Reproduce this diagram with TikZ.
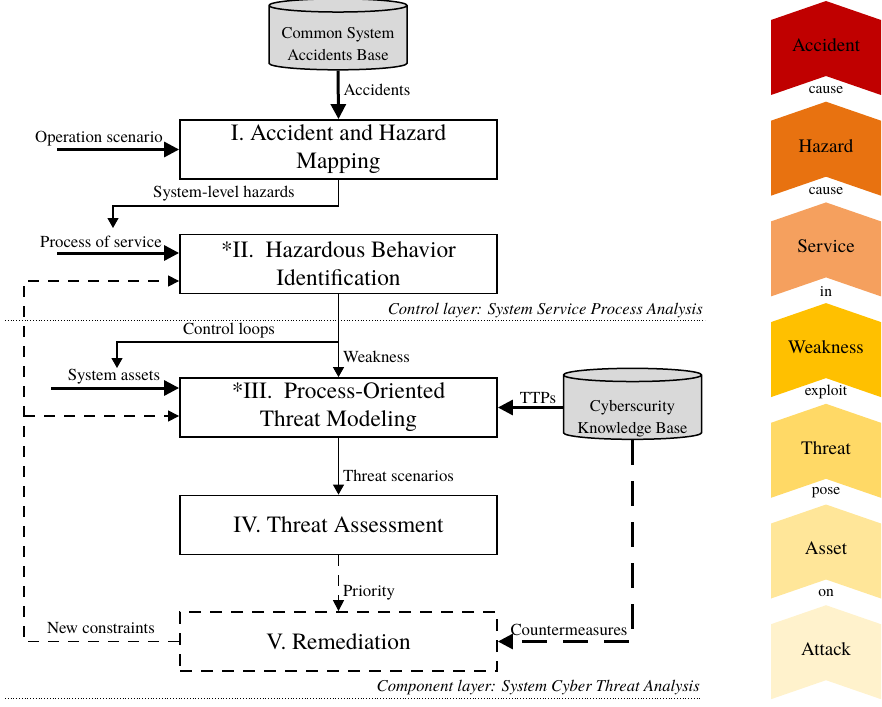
\documentclass[tikz,border=0pt]{standalone}
\usepackage{fontspec}
\setmainfont{texgyretermes}[Extension=.otf, UprightFont=*-regular, ItalicFont=*-italic, BoldFont=*-bold, BoldItalicFont=*-bolditalic]
\usetikzlibrary{positioning,shapes.geometric,arrows.meta}

\definecolor{accred}{HTML}{C00000}
\definecolor{hzorange}{HTML}{E87210}
\definecolor{svorange}{HTML}{F5A05E}
\definecolor{wkgold}{HTML}{FFC000}
\definecolor{thgold}{HTML}{FFD966}
\definecolor{asgold}{HTML}{FFE699}
\definecolor{atgold}{HTML}{FFF2CC}

\tikzset{
  stage/.style={draw, line width=1.8pt, minimum width=317pt, minimum height=59pt, inner sep=0pt, align=center, font=\fontsize{23.3}{28}\selectfont},
  kbase/.style={cylinder, shape border rotate=90, aspect=0.11, draw, line width=1.5pt, fill=gray!30, minimum width=138pt, minimum height=71pt, inner sep=0pt},
  kbtext/.style={inner sep=0pt, align=center, font=\fontsize{16.4}{22}\selectfont},
  lbl/.style={inner sep=0pt, font=\fontsize{16.8}{19}\selectfont},
  layerlbl/.style={inner sep=0pt, anchor=east, font=\fontsize{16.6}{19}\selectfont\itshape},
  flow/.style={line width=1.1pt, -{Triangle[length=10pt,width=11pt]}},
  bigflow/.style={line width=3pt, -{Triangle[length=15pt,width=15pt]}},
  dflow/.style={line width=1.1pt, dash pattern=on 11pt off 9pt, -{Triangle[length=11pt,width=11pt]}},
  bigdflow/.style={line width=3pt, dash pattern=on 25pt off 16pt, -{Triangle[length=15pt,width=15pt]}},
  chevname/.style={inner sep=0pt, font=\fontsize{19}{20}\selectfont},
  chevrel/.style={inner sep=0pt, font=\fontsize{15.5}{18}\selectfont}
}

\begin{document}
\begin{tikzpicture}[x=1pt, y=-1pt]
\useasboundingbox (0,0) rectangle (882,706);

% knowledge bases and stages
\node[kbase] (accbase) at (338,38) {\hspace*{120pt}};
\node[kbtext] (accbasetxt) at ([yshift=-6pt]accbase.center) {Common System\\Accidents Base};
\node[stage] (map) at (338.5,149.5) {I. Accident and Hazard\\Mapping};
\node[stage] (behav) at (338.5,264) {*II.\ \ Hazardous Behavior\\Identification};
\node[stage] (model) at (338.5,407.5) {*III.\ \ Process-Oriented\\Threat Modeling};
\node[stage] (assess) at (338.5,525) {IV. Threat Assessment};
\node[stage, dash pattern=on 12pt off 9pt] (remed) at (338.5,641.5) {V. Remediation};
\node[kbase] (cyberbase) at (632.5,407.5) {\hspace*{120pt}};
\node[kbtext] (cyberbasetxt) at ([yshift=-11pt]cyberbase.center) {Cyberscurity\\Knowledge Base};

% free ends
\coordinate (opsrc) at (57,149.5);
\coordinate (psrc) at (57,253);
\coordinate (asrc) at (51,388);
\coordinate (hzturn) at (113,206);
\coordinate (hzend) at (113,228);
\coordinate (clturn) at (338.5,342);
\coordinate (clend) at (117,368);
\coordinate (fbcorner) at (24,641.5);
\coordinate (fbbranch) at (24,416);

% main flow
\draw[bigflow] (accbase.south) -- (map.north) node[lbl, pos=0.4, right=4pt] (acclbl) {Accidents};
\draw[bigflow] (opsrc) -- (map.west);
\node[lbl] (oplbl) at (99,139) {Operation scenario};
\draw[flow] (map.south) |- (hzturn) -- (hzend);
\node[lbl] (hzlbl) at (224,194) {System-level hazards};
\draw[bigflow] (psrc) -- (psrc -| behav.west);
\node[lbl] (pslbl) at (101,242) {Process of service};
\draw[flow] (behav.south) -- (model.north) node[lbl, pos=0.76, right=4pt] (wklbl) {Weakness};
\draw[flow] (clturn) -| (clend);
\node[lbl] (cllbl) at (229,331) {Control loops};
\draw[bigflow] (asrc) -- (asrc -| model.west);
\node[lbl] (aslbl) at (114,377) {System assets};
\draw[bigflow] (cyberbase.west) -- (cyberbase.west -| model.east);
\node[lbl] (ttplbl) at (538,398) {TTPs};
\draw[flow] (model.south) -- (assess.north) node[lbl, pos=0.67, right=4pt] (tslbl) {Threat scenarios};
\draw[dflow] (assess.south) -- (remed.north) node[lbl, pos=0.67, right=4pt] (prlbl) {Priority};
\draw[bigdflow] (cyberbase.south) |- (remed.east);
\node[lbl] (cmlbl) at (569,630) {Countermeasures};

% feedback
\draw[dflow] (remed.west) -- (fbcorner) |- ([yshift=-17pt]behav.west);
\draw[dflow] (fbbranch) -- (fbbranch -| model.west);
\node[lbl] (nclbl) at (101,628) {New constraints};

% layers
\draw[dotted, line width=0.8pt] (5,320) -- (705,320);
\draw[dotted, line width=0.8pt] (5,698) -- (701,698);
\node[layerlbl] (ctrllayer) at (703,311) {Control layer: System Service Process Analysis};
\node[layerlbl] (complayer) at (700,688) {Component layer: System Cyber Threat Analysis};

% chain on the right
\foreach \nm/\col/\i in {Accident/accred/0, Hazard/hzorange/1, Service/svorange/2, Weakness/wkgold/3, Threat/thgold/4, Asset/asgold/5, Attack/atgold/6} {
  \fill[\col] (771,{20+100.7*\i}) -- (826,{1+100.7*\i}) -- (881,{20+100.7*\i}) -- (881,{95+100.7*\i}) -- (826,{76+100.7*\i}) -- (771,{95+100.7*\i}) -- cycle;
  \node[chevname] (chev\i) at (826,{45+100.7*\i}) {\nm};
}
\foreach \rel/\i in {cause/0, cause/1, in/2, exploit/3, pose/4, on/5}
  \node[chevrel] (rel\i) at (826,{90+100.7*\i}) {\rel};
\end{tikzpicture}
\end{document}
